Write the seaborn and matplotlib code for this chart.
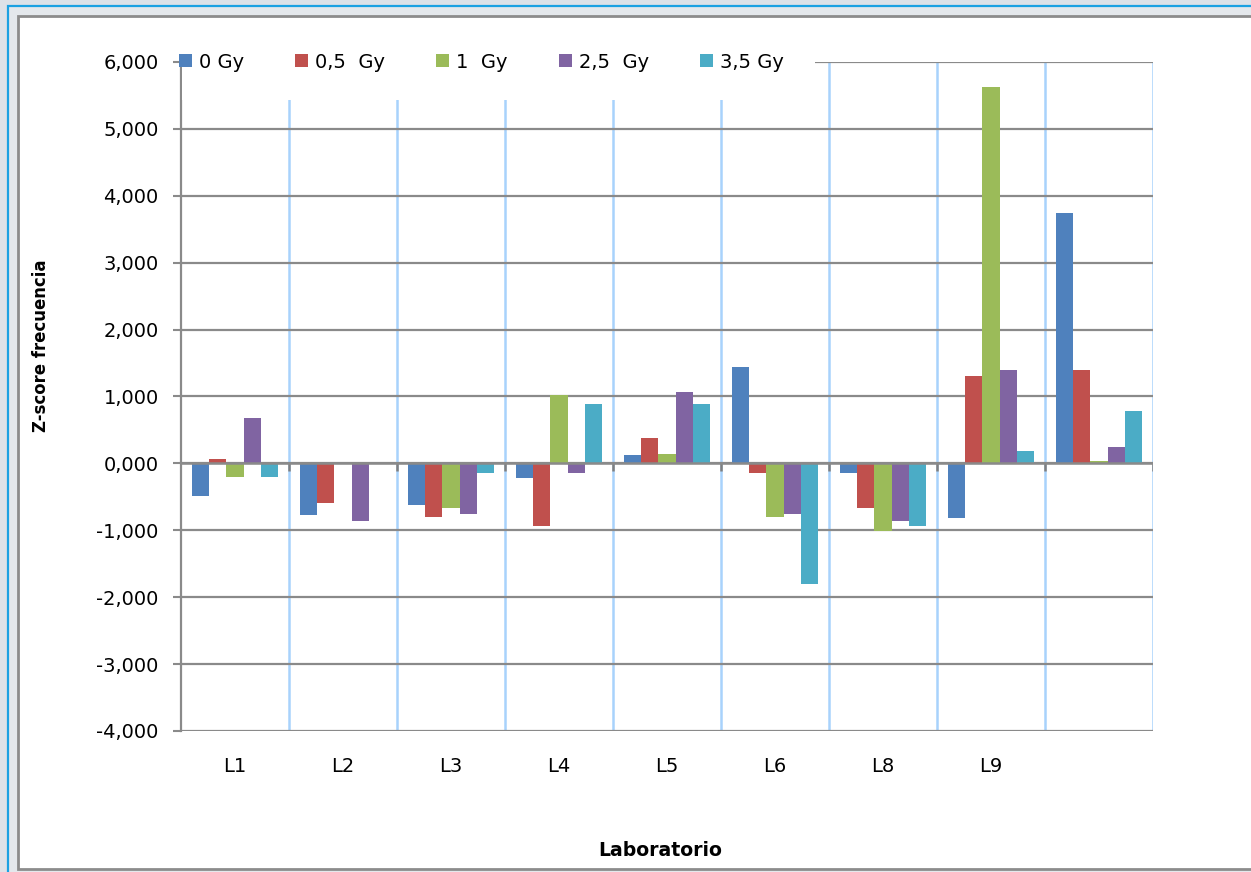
import numpy as np
import pandas as pd
import matplotlib
matplotlib.use("Agg")
import matplotlib.pyplot as plt
from matplotlib.patches import Rectangle
from matplotlib.ticker import FuncFormatter, MultipleLocator
import seaborn as sns

# Laboratory groups (the last group carries no label on the axis)
laboratorios = ["L1", "L2", "L3", "L4", "L5", "L6", "L8", "L9", " "]
dosis = ["0 Gy", "0,5  Gy", "1  Gy", "2,5  Gy", "3,5 Gy"]

# Z-score of frequency per dose, one value per laboratory
z_0gy = [-0.49, -0.77, -0.62, -0.22, 0.13, 1.44, -0.14, -0.81, 3.74]
z_05gy = [0.07, -0.59, -0.80, -0.93, 0.38, -0.14, -0.67, 1.30, 1.40]
z_1gy = [-0.20, 0.0, -0.67, 1.02, 0.14, -0.80, -1.01, 5.62, 0.03]
z_25gy = [0.68, -0.86, -0.75, -0.14, 1.07, -0.75, -0.86, 1.40, 0.24]
z_35gy = [-0.20, 0.0, -0.14, 0.89, 0.89, -1.80, -0.93, 0.19, 0.79]

colores = ["#4f81bd", "#c0504d", "#9bbb59", "#8064a2", "#4bacc6"]

series = [z_0gy, z_05gy, z_1gy, z_25gy, z_35gy]
df = pd.DataFrame({
    "Laboratorio": np.tile(laboratorios, len(dosis)),
    "Dosis": np.repeat(dosis, len(laboratorios)),
    "Z": np.concatenate(series),
})

sns.set_theme(style="white")
plt.rcParams["font.family"] = ["DejaVu Sans"]
plt.rcParams["axes.unicode_minus"] = False
plt.rcParams["text.color"] = "black"
plt.rcParams["axes.labelcolor"] = "black"

W, H = 1251, 872
fig = plt.figure(figsize=(W / 100, H / 100), dpi=100)
fig.patch.set_facecolor("#dde2e8")

# Frame around the chart: cyan outline, light band, grey-bordered white panel
fig.patches.append(Rectangle((8 / W, 1 - 880 / H), 1260 / W, 874 / H,
                             transform=fig.transFigure, facecolor="#e4e8ec",
                             edgecolor="#1ba1e2", linewidth=1.6, zorder=-3))
fig.patches.append(Rectangle((18 / W, 1 - 869 / H), 1250 / W, 853 / H,
                             transform=fig.transFigure, facecolor="white",
                             edgecolor="#8c8c8c", linewidth=2.0, zorder=-2))

AX_L, AX_T, AX_W, AX_H = 181, 62, 972, 669
ax = fig.add_axes([AX_L / W, 1 - (AX_T + AX_H) / H, AX_W / W, AX_H / H])
ax.set_facecolor("none")

sns.barplot(data=df, x="Laboratorio", y="Z", hue="Dosis", order=laboratorios,
            hue_order=dosis, palette=colores, width=0.79, saturation=1,
            edgecolor="none", linewidth=0, ax=ax, zorder=3)

n = len(laboratorios)
ax.set_xlim(-0.5, n - 0.5)
ax.set_ylim(-4, 6)

# Horizontal grid in grey, group separators in light blue
ax.yaxis.set_major_locator(MultipleLocator(1))
ax.yaxis.set_major_formatter(FuncFormatter(lambda v, p: f"{v:.3f}".replace(".", ",")))
for yv in np.arange(-4, 7):
    ax.axhline(yv, color="#8a8a8a", linewidth=1.6, zorder=1)
bordes = np.arange(n) + 0.5
ax.vlines(bordes, -4, 6, color="#a8d2fc", linewidth=1.8, zorder=0.5)
# Category axis crosses at zero: small tick marks at each group border
ax.vlines(bordes, -0.12, 0, color="#7f7f7f", linewidth=1.8, zorder=4)
ax.axhline(0, color="#8a8a8a", linewidth=1.8, zorder=4)

for s in ["top", "right", "bottom"]:
    ax.spines[s].set_visible(False)
ax.spines["left"].set_color("#8a8a8a")
ax.spines["left"].set_linewidth(1.6)

ax.tick_params(axis="y", which="major", direction="out", length=6, width=1.5,
               color="#8a8a8a", labelsize=14, labelcolor="black", pad=10, left=True)
ax.tick_params(axis="x", length=0, labelsize=14, labelcolor="black", pad=19)

ax.set_ylabel("Z-score frecuencia", fontsize=11.9, fontweight="bold", color="black")
ax.yaxis.set_label_coords((50 - AX_L) / AX_W, (AX_T + AX_H - 346) / AX_H)
ax.set_xlabel("Laboratorio", fontsize=13.6, fontweight="bold", color="black")
ax.xaxis.set_label_coords((660 - AX_L) / AX_W, (AX_T + AX_H - 841) / AX_H)

# White legend area above the plot, hiding the grid behind the entries
ax.add_patch(Rectangle(((182 - AX_L) / AX_W, 1 - 38 / AX_H), (815 - 182) / AX_W,
                       76 / AX_H, transform=ax.transAxes, facecolor="white",
                       edgecolor="none", zorder=5, clip_on=False))

leg = ax.legend(loc="center left", bbox_to_anchor=((179 - AX_L) / AX_W, 1.0),
                ncol=5, frameon=False, fontsize=14, handlelength=0.67,
                handleheight=0.67, handletextpad=0.36, columnspacing=2.62,
                borderpad=0, borderaxespad=0)
leg.set_zorder(6)
for t in leg.get_texts():
    t.set_color("black")

fig.savefig("out.png", dpi=100, facecolor=fig.get_facecolor())
